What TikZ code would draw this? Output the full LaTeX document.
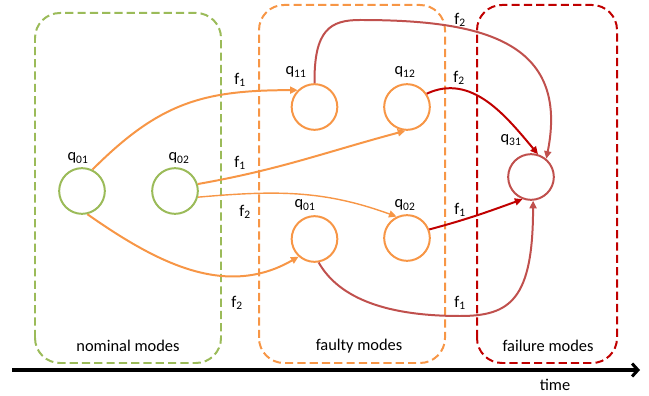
\documentclass[tikz,border=0pt]{standalone}
\usepackage{fontspec}
\setmainfont{Carlito}
\usetikzlibrary{arrows.meta, positioning}
\definecolor{nomgreen}{RGB}{155,187,89}
\definecolor{faultorange}{RGB}{247,150,70}
\definecolor{failred}{RGB}{192,0,0}
\definecolor{softred}{RGB}{192,80,77}

\begin{document}
\begin{tikzpicture}[x=0.03cm, y=0.03cm, font=\fontsize{14}{17}\selectfont,
    modebox/.style={draw, line width=1.7pt, rounded corners=0.75cm, dash pattern=on 7pt off 3.5pt},
    state/.style={circle, draw, line width=1.7pt, minimum size=1.37cm, inner sep=0pt},
    trans/.style={line width=1.7pt, -{Triangle[length=6.5pt,width=6pt]}}]
    \useasboundingbox (0,0) rectangle (649,395);

    % Mode boxes
    \draw[modebox, nomgreen] (35,32) rectangle (221,382);
    \draw[modebox, faultorange] (259,32) rectangle (445,390);
    \draw[modebox, failred] (477,32) rectangle (617,390);
    \node (nomtxt) at (128,49) {nominal modes};
    \node (flttxt) at (359,49) {faulty modes};
    \node (failtxt) at (548,49) {failure modes};

    % States
    \node[state, nomgreen] (nom1) at (82,204) {};
    \node[state, nomgreen] (nom2) at (175,204) {};
    \node[state, faultorange] (q11) at (314.5,288) {};
    \node[state, faultorange] (q12) at (407,288) {};
    \node[state, faultorange] (flt1) at (314.5,156) {};
    \node[state, faultorange] (flt2) at (407,157) {};
    \node[state, softred] (q31) at (531,218) {};

    \node (lnom1) at (78,237) {q\textsubscript{01}};
    \node (lnom2) at (179,237) {q\textsubscript{02}};
    \node (lq11) at (296,323) {q\textsubscript{11}};
    \node (lq12) at (405,323) {q\textsubscript{12}};
    \node (lflt1) at (305,190) {q\textsubscript{01}};
    \node (lflt2) at (405,190) {q\textsubscript{02}};
    \node (lq31) at (511,255) {q\textsubscript{31}};

    % Fault transitions
    \draw[trans, faultorange] (nom1.64) to[out=45, in=180, looseness=1.1] (q11.135);
    \draw[trans, faultorange] (nom2.17) to[out=10, in=195] (q12.266);
    \draw[trans, faultorange, line width=1.2pt] (nom2.-15) to[out=5, in=160] (flt2.116);
    \draw[trans, faultorange] (nom1.-77) to[out=-35, in=210] (flt1.228);

    % Failure transitions
    \draw[trans, failred] (q12.34) to[out=25, in=130] (q31.73);
    \draw[trans, failred] (flt2.21) to[out=15, in=200] (q31.249);
    \draw[trans, softred] (q11.north) .. controls (314,365) and (330,375) .. (360,375)
        .. controls (480,375) and (570,355) .. (q31.50);
    \draw[trans, softred] (flt1.-80) .. controls (340,95) and (390,79) .. (460,79)
        .. controls (510,79) and (533,95) .. (q31.-85);

    % Event labels
    \node (e1) at (240,315) {f\textsubscript{1}};
    \node (e2) at (240,232) {f\textsubscript{1}};
    \node (e3) at (245,183) {f\textsubscript{2}};
    \node (e4) at (237,92) {f\textsubscript{2}};
    \node (e5) at (460,375) {f\textsubscript{2}};
    \node (e6) at (459,317) {f\textsubscript{2}};
    \node (e7) at (460,185) {f\textsubscript{1}};
    \node (e8) at (460,92) {f\textsubscript{1}};

    % Time axis
    \coordinate (t0) at (12,25);
    \coordinate (t1) at (640,25);
    \draw[line width=2.6pt, -{Straight Barb[length=5pt,width=11pt]}] (t0) -- (t1);
    \node (timetxt) at (555,10) {time};
\end{tikzpicture}
\end{document}
